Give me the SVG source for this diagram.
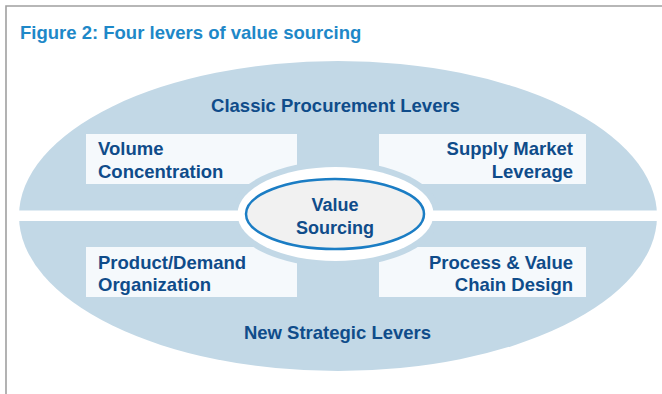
<svg xmlns="http://www.w3.org/2000/svg" width="662" height="394" viewBox="0 0 662 394">
<style>
.lbl{font-family:"Liberation Sans",Arial,sans-serif;font-weight:bold;font-size:18.5px;fill:#0f4c8a}
.box{fill:#f5f9fc}
.r{text-anchor:end}
.m{text-anchor:middle}
</style>
<rect width="662" height="394" fill="#ffffff"/>
<path d="M6,394 V6 H662" fill="none" stroke="#a0a0a0" stroke-width="1.6"/>
<text x="20" y="38.5" font-family="'Liberation Sans',Arial,sans-serif" font-weight="bold" font-size="18.5" fill="#1e88c8">Figure 2: Four levers of value sourcing</text>
<g id="outer">
<ellipse cx="338" cy="216" rx="319" ry="155" fill="#c2d8e6"/>
</g>
<g id="classic-label"><text class="lbl m" x="335.5" y="112">Classic Procurement Levers</text></g>
<g id="strategic-label"><text class="lbl m" x="337.5" y="339">New Strategic Levers</text></g>
<g id="volume-concentration">
<rect class="box" x="86" y="134" width="211" height="50"/>
<text class="lbl" x="98" y="155">Volume</text>
<text class="lbl" x="98" y="178">Concentration</text>
</g>
<g id="supply-market-leverage">
<rect class="box" x="379" y="134" width="207" height="50"/>
<text class="lbl r" x="573" y="155">Supply Market</text>
<text class="lbl r" x="573" y="178">Leverage</text>
</g>
<g id="product-demand-organization">
<rect class="box" x="86" y="247" width="211" height="50"/>
<text class="lbl" x="98" y="269">Product/Demand</text>
<text class="lbl" x="98" y="291">Organization</text>
</g>
<g id="process-value-chain-design">
<rect class="box" x="379" y="247" width="207" height="50"/>
<text class="lbl r" x="573" y="269">Process &amp; Value</text>
<text class="lbl r" x="573" y="291">Chain Design</text>
</g>
<g id="connectors">
<ellipse cx="335.5" cy="214" rx="105" ry="53" fill="#c2d8e6"/>
<rect x="19" y="210.5" width="638" height="10.5" fill="#ffffff"/>
</g>
<g id="value-sourcing">
<ellipse cx="335.5" cy="214" rx="98" ry="47" fill="#ffffff"/>
<ellipse cx="335" cy="214" rx="89" ry="35" fill="#f1f1f1" stroke="#1b7dc4" stroke-width="2.5"/>
<text class="lbl m" x="335" y="211" style="font-size:18px">Value</text>
<text class="lbl m" x="335" y="234" style="font-size:18px">Sourcing</text>
</g>
</svg>
